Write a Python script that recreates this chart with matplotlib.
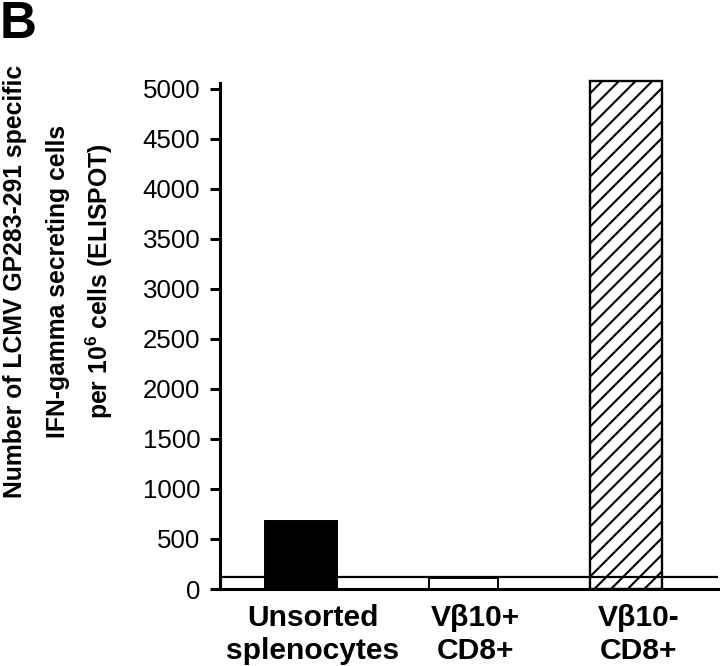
import numpy as np
import matplotlib
matplotlib.use("Agg")
import matplotlib.pyplot as plt
from matplotlib.transforms import ScaledTranslation

plt.rcParams['font.family'] = ['Liberation Sans', 'DejaVu Sans']
plt.rcParams['mathtext.fontset'] = 'custom'
plt.rcParams['mathtext.rm'] = 'Liberation Sans'
plt.rcParams['mathtext.bf'] = 'Liberation Sans:bold'
plt.rcParams['hatch.linewidth'] = 1.5

# data
groups = ['Unsorted\nsplenocytes', 'V\u03b210+\nCD8+', 'V\u03b210-\nCD8+']
spots = [680, 110, 5080]
background = 120
yticks = np.arange(0, 5001, 500)
ylabel_lines = ['Number of LCMV GP283-291 specific',
                'IFN-gamma secreting cells',
                r'per 10$^{\mathbf{6}}$ cells (ELISPOT)']

fig = plt.figure(figsize=(7.2, 6.66), dpi=100)
ax = fig.add_axes([0.3056, 0.1156, 0.692, 0.760])

x = np.arange(len(groups))
ax.bar(x[0], spots[0], width=0.44, color='black', edgecolor='black', linewidth=1.4, zorder=2)
ax.bar(x[1], spots[1], width=0.42, color='white', edgecolor='black', linewidth=1.4, zorder=2)
ax.bar(x[2], spots[2], width=0.44, color='white', edgecolor='black', linewidth=1.7,
       hatch='//', zorder=2, clip_on=False)
ax.axhline(background, color='black', linewidth=1.6, zorder=3)

ax.set_xlim(-0.498, 2.566)
ax.set_ylim(0, 5060)
ax.set_yticks(yticks)
ax.set_yticklabels([str(v) for v in yticks], fontsize=18.6)
ax.set_xticks(x)
ax.set_xticklabels(groups, fontsize=21.6, fontweight='bold', linespacing=1.2)

for s in ['top', 'right']:
    ax.spines[s].set_visible(False)
ax.spines['left'].set_linewidth(2.2)
ax.spines['bottom'].set_linewidth(2.2)
ax.tick_params(axis='y', direction='out', length=7.2, width=2.2, pad=7)
ax.tick_params(axis='x', length=0, pad=11)

off = ScaledTranslation(12 / 100, 0, fig.dpi_scale_trans)
for lab in ax.get_xticklabels():
    lab.set_transform(lab.get_transform() + off)

# y label, one line at a time (baselines at 22, 65, 108 px)
for i, line in enumerate(ylabel_lines):
    fig.text((22 + 43 * i) / 720, 1 - 281 / 666, line, rotation=90,
             rotation_mode='anchor', ha='center', va='baseline',
             fontsize=17.8, fontweight='bold')

fig.text(0.0, 1.0, 'B', fontsize=37, fontweight='bold', ha='left', va='top')

fig.savefig('out.png', dpi=100)
